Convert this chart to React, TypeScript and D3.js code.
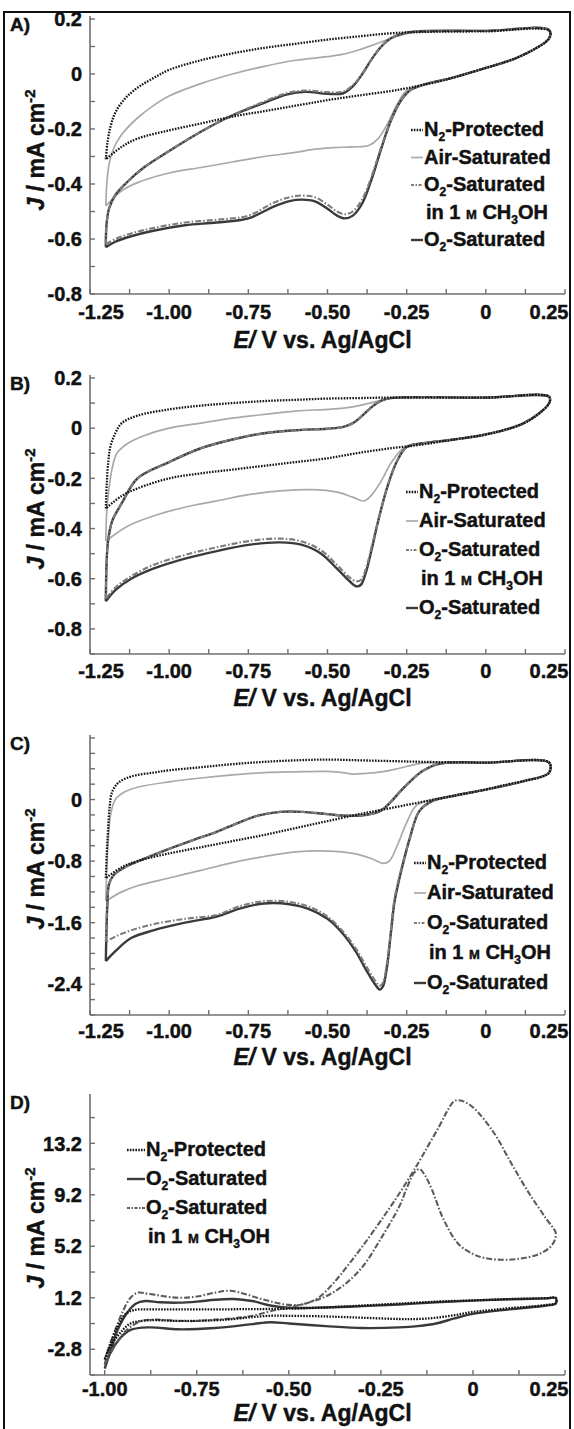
import React from 'react';
import * as d3 from 'd3';

type Pt = [number, number];

// ---------- panel A : loops as [E / V, J / mA cm-2], positive-going then negative-going ----------
const aN2: Pt[] = [
  [-1.2, -0.31], [-1.195, -0.25], [-1.185, -0.19], [-1.17, -0.14], [-1.14, -0.09], [-1.1, -0.05], [-1.05, -0.015],
  [-1.0, 0.015], [-0.9, 0.05], [-0.8, 0.075], [-0.7, 0.095], [-0.6, 0.11], [-0.5, 0.125], [-0.4, 0.137], [-0.3, 0.148],
  [-0.2, 0.153], [0, 0.155], [0.2, 0.157],
  [0.2, 0.13], [0.15, 0.088], [0.1, 0.06], [0.05, 0.04], [0, 0.022], [-0.05, 0.005], [-0.1, -0.012], [-0.15, -0.028],
  [-0.2, -0.04], [-0.25, -0.052], [-0.3, -0.062], [-0.4, -0.078], [-0.5, -0.095], [-0.6, -0.115], [-0.7, -0.135],
  [-0.8, -0.155], [-0.9, -0.18], [-1.0, -0.205], [-1.1, -0.235], [-1.15, -0.265], [-1.2, -0.31],
];
const aAir: Pt[] = [
  [-1.2, -0.48], [-1.197, -0.4], [-1.19, -0.33], [-1.175, -0.27], [-1.15, -0.22], [-1.1, -0.16], [-1.05, -0.115],
  [-1.0, -0.08], [-0.9, -0.035], [-0.8, 0.0], [-0.7, 0.028], [-0.6, 0.05], [-0.5, 0.063], [-0.45, 0.072], [-0.4, 0.088],
  [-0.35, 0.108], [-0.3, 0.13], [-0.25, 0.147], [-0.2, 0.153], [0, 0.157], [0.2, 0.16],
  [0.2, 0.13], [0.1, 0.06], [0, 0.022], [-0.1, -0.012], [-0.2, -0.04], [-0.25, -0.06], [-0.28, -0.11], [-0.31, -0.18],
  [-0.34, -0.235], [-0.37, -0.26], [-0.42, -0.265], [-0.48, -0.268], [-0.55, -0.275], [-0.6, -0.285], [-0.7, -0.3],
  [-0.8, -0.32], [-0.9, -0.34], [-1.0, -0.36], [-1.1, -0.395], [-1.15, -0.425], [-1.2, -0.48],
];
const aMeOH: Pt[] = [
  [-1.2, -0.62], [-1.198, -0.55], [-1.19, -0.49], [-1.17, -0.44], [-1.13, -0.39], [-1.08, -0.34], [-1.0, -0.28],
  [-0.9, -0.21], [-0.8, -0.15], [-0.7, -0.1], [-0.63, -0.07], [-0.57, -0.06], [-0.5, -0.066], [-0.45, -0.064],
  [-0.42, -0.04], [-0.39, 0.0], [-0.36, 0.055], [-0.33, 0.1], [-0.3, 0.13], [-0.26, 0.148], [-0.22, 0.155], [0, 0.157], [0.2, 0.16],
  [0.2, 0.13], [0.1, 0.06], [0, 0.022], [-0.1, -0.012], [-0.2, -0.04], [-0.24, -0.06], [-0.27, -0.1], [-0.3, -0.17],
  [-0.33, -0.265], [-0.36, -0.37], [-0.39, -0.455], [-0.42, -0.5], [-0.445, -0.51], [-0.47, -0.5], [-0.5, -0.475],
  [-0.54, -0.448], [-0.58, -0.442], [-0.62, -0.448], [-0.67, -0.468], [-0.75, -0.515], [-0.85, -0.53], [-0.95, -0.54],
  [-1.05, -0.56], [-1.12, -0.58], [-1.17, -0.6], [-1.2, -0.62],
];
const aO2: Pt[] = [
  [-1.2, -0.63], [-1.198, -0.55], [-1.19, -0.49], [-1.17, -0.44], [-1.13, -0.39], [-1.08, -0.34], [-1.0, -0.28],
  [-0.9, -0.21], [-0.8, -0.15], [-0.7, -0.105], [-0.63, -0.075], [-0.57, -0.065], [-0.5, -0.072], [-0.45, -0.07],
  [-0.42, -0.045], [-0.39, 0.0], [-0.36, 0.055], [-0.33, 0.1], [-0.3, 0.13], [-0.26, 0.148], [-0.22, 0.155], [0, 0.157], [0.2, 0.16],
  [0.2, 0.13], [0.1, 0.06], [0, 0.022], [-0.1, -0.012], [-0.2, -0.04], [-0.24, -0.06], [-0.27, -0.1], [-0.3, -0.17],
  [-0.33, -0.27], [-0.36, -0.38], [-0.39, -0.47], [-0.42, -0.515], [-0.445, -0.525], [-0.47, -0.515], [-0.5, -0.49],
  [-0.54, -0.463], [-0.58, -0.457], [-0.62, -0.462], [-0.67, -0.482], [-0.75, -0.525], [-0.85, -0.54], [-0.95, -0.55],
  [-1.05, -0.57], [-1.12, -0.59], [-1.17, -0.61], [-1.2, -0.63],
];

// ---------- panel B ----------
const bN2: Pt[] = [
  [-1.2, -0.32], [-1.197, -0.22], [-1.192, -0.13], [-1.185, -0.07], [-1.17, -0.02], [-1.15, 0.02], [-1.1, 0.05],
  [-1.0, 0.075], [-0.9, 0.09], [-0.8, 0.1], [-0.7, 0.108], [-0.6, 0.113], [-0.5, 0.118], [-0.4, 0.12], [-0.3, 0.122],
  [0, 0.122], [0.2, 0.125],
  [0.2, 0.1], [0.17, 0.06], [0.12, 0.02], [0.05, -0.01], [0, -0.025], [-0.1, -0.045], [-0.2, -0.065], [-0.3, -0.08],
  [-0.4, -0.098], [-0.5, -0.12], [-0.6, -0.135], [-0.7, -0.15], [-0.8, -0.165], [-0.9, -0.18], [-1.0, -0.2],
  [-1.1, -0.24], [-1.15, -0.27], [-1.2, -0.32],
];
const bAir: Pt[] = [
  [-1.2, -0.45], [-1.197, -0.33], [-1.19, -0.24], [-1.18, -0.16], [-1.165, -0.1], [-1.13, -0.06], [-1.08, -0.03],
  [-1.0, 0.0], [-0.9, 0.02], [-0.8, 0.04], [-0.7, 0.055], [-0.6, 0.068], [-0.5, 0.075], [-0.45, 0.08], [-0.4, 0.09],
  [-0.35, 0.105], [-0.3, 0.12], [-0.25, 0.124], [0, 0.122], [0.2, 0.125],
  [0.2, 0.1], [0.12, 0.02], [0, -0.025], [-0.1, -0.045], [-0.2, -0.06], [-0.26, -0.08], [-0.3, -0.14], [-0.33, -0.21],
  [-0.36, -0.265], [-0.385, -0.29], [-0.42, -0.275], [-0.47, -0.255], [-0.55, -0.245], [-0.65, -0.25], [-0.75, -0.265],
  [-0.85, -0.29], [-0.95, -0.315], [-1.05, -0.35], [-1.13, -0.39], [-1.2, -0.45],
];
const bMeOH: Pt[] = [
  [-1.2, -0.68], [-1.198, -0.55], [-1.193, -0.45], [-1.18, -0.37], [-1.15, -0.3], [-1.1, -0.2], [-1.0, -0.135],
  [-0.9, -0.08], [-0.8, -0.045], [-0.7, -0.02], [-0.6, -0.008], [-0.5, -0.002], [-0.45, 0.005], [-0.42, 0.02],
  [-0.39, 0.05], [-0.36, 0.085], [-0.33, 0.11], [-0.3, 0.12], [0, 0.122], [0.2, 0.125],
  [0.2, 0.1], [0.12, 0.02], [0, -0.025], [-0.1, -0.045], [-0.2, -0.06], [-0.25, -0.075], [-0.28, -0.13], [-0.31, -0.23],
  [-0.34, -0.37], [-0.36, -0.47], [-0.38, -0.565], [-0.395, -0.605], [-0.41, -0.61], [-0.43, -0.595], [-0.47, -0.545],
  [-0.52, -0.487], [-0.58, -0.452], [-0.65, -0.44], [-0.75, -0.45], [-0.85, -0.475], [-0.95, -0.505], [-1.05, -0.545],
  [-1.12, -0.59], [-1.17, -0.635], [-1.2, -0.68],
];
const bO2: Pt[] = [
  [-1.2, -0.69], [-1.198, -0.55], [-1.193, -0.45], [-1.18, -0.37], [-1.15, -0.3], [-1.1, -0.2], [-1.0, -0.135],
  [-0.9, -0.08], [-0.8, -0.045], [-0.7, -0.02], [-0.6, -0.008], [-0.5, -0.002], [-0.45, 0.005], [-0.42, 0.02],
  [-0.39, 0.05], [-0.36, 0.085], [-0.33, 0.11], [-0.3, 0.12], [0, 0.122], [0.2, 0.125],
  [0.2, 0.1], [0.12, 0.02], [0, -0.025], [-0.1, -0.045], [-0.2, -0.06], [-0.25, -0.075], [-0.28, -0.13], [-0.31, -0.23],
  [-0.34, -0.37], [-0.36, -0.48], [-0.38, -0.58], [-0.395, -0.625], [-0.41, -0.63], [-0.43, -0.61], [-0.47, -0.56],
  [-0.52, -0.5], [-0.58, -0.465], [-0.65, -0.455], [-0.75, -0.465], [-0.85, -0.49], [-0.95, -0.52], [-1.05, -0.56],
  [-1.12, -0.6], [-1.17, -0.645], [-1.2, -0.69],
];

// ---------- panel C ----------
const cN2: Pt[] = [
  [-1.2, -1.02], [-1.197, -0.7], [-1.193, -0.4], [-1.188, -0.1], [-1.18, 0.1], [-1.16, 0.22], [-1.12, 0.3],
  [-1.05, 0.35], [-1.0, 0.38], [-0.9, 0.42], [-0.8, 0.46], [-0.7, 0.49], [-0.6, 0.51], [-0.5, 0.52], [-0.4, 0.51],
  [-0.3, 0.5], [-0.2, 0.49], [0, 0.48], [0.2, 0.48],
  [0.2, 0.35], [0.18, 0.3], [0.12, 0.24], [0.05, 0.18], [0, 0.13], [-0.1, 0.05], [-0.2, -0.03], [-0.3, -0.11],
  [-0.4, -0.19], [-0.5, -0.28], [-0.6, -0.37], [-0.7, -0.46], [-0.8, -0.54], [-0.9, -0.62], [-1.0, -0.7],
  [-1.1, -0.8], [-1.15, -0.88], [-1.2, -1.02],
];
const cAir: Pt[] = [
  [-1.2, -1.32], [-1.197, -0.9], [-1.192, -0.5], [-1.185, -0.2], [-1.17, 0.0], [-1.14, 0.1], [-1.1, 0.16],
  [-1.0, 0.23], [-0.9, 0.28], [-0.8, 0.32], [-0.7, 0.35], [-0.6, 0.36], [-0.5, 0.365], [-0.45, 0.35], [-0.42, 0.33],
  [-0.38, 0.34], [-0.33, 0.36], [-0.28, 0.4], [-0.22, 0.46], [-0.18, 0.48], [0, 0.48], [0.2, 0.48],
  [0.2, 0.35], [0.12, 0.24], [0, 0.13], [-0.1, 0.05], [-0.18, -0.01], [-0.22, -0.08], [-0.25, -0.3], [-0.28, -0.6],
  [-0.305, -0.8], [-0.325, -0.83], [-0.36, -0.77], [-0.42, -0.7], [-0.5, -0.67], [-0.6, -0.68], [-0.7, -0.74],
  [-0.8, -0.82], [-0.9, -0.92], [-1.0, -1.02], [-1.1, -1.12], [-1.15, -1.2], [-1.2, -1.32],
];
const cMeOH: Pt[] = [
  [-1.2, -1.85], [-1.198, -1.6], [-1.195, -1.35], [-1.19, -1.1], [-1.175, -0.98], [-1.14, -0.88], [-1.08, -0.77],
  [-1.0, -0.64], [-0.92, -0.52], [-0.85, -0.42], [-0.78, -0.3], [-0.72, -0.21], [-0.65, -0.16], [-0.58, -0.16],
  [-0.5, -0.19], [-0.44, -0.21], [-0.38, -0.2], [-0.33, -0.14], [-0.3, -0.03], [-0.265, 0.13], [-0.23, 0.27],
  [-0.2, 0.37], [-0.16, 0.45], [-0.12, 0.48], [0, 0.48], [0.2, 0.48],
  [0.2, 0.35], [0.12, 0.24], [0, 0.13], [-0.1, 0.05], [-0.17, -0.02], [-0.21, -0.15], [-0.24, -0.5], [-0.265, -0.87],
  [-0.288, -1.28], [-0.3, -1.7], [-0.312, -2.12], [-0.325, -2.38], [-0.335, -2.42], [-0.35, -2.35], [-0.38, -2.15],
  [-0.41, -1.94], [-0.45, -1.72], [-0.5, -1.52], [-0.56, -1.39], [-0.62, -1.33], [-0.7, -1.32], [-0.78, -1.39],
  [-0.85, -1.5], [-0.95, -1.55], [-1.05, -1.62], [-1.12, -1.7], [-1.17, -1.78], [-1.2, -1.85],
];
const cO2: Pt[] = [
  [-1.2, -2.1], [-1.198, -1.7], [-1.195, -1.35], [-1.19, -1.1], [-1.175, -0.98], [-1.14, -0.88], [-1.08, -0.77],
  [-1.0, -0.64], [-0.92, -0.52], [-0.85, -0.42], [-0.78, -0.3], [-0.72, -0.21], [-0.65, -0.16], [-0.58, -0.16],
  [-0.5, -0.19], [-0.44, -0.21], [-0.38, -0.2], [-0.33, -0.14], [-0.3, -0.03], [-0.265, 0.13], [-0.23, 0.27],
  [-0.2, 0.37], [-0.16, 0.45], [-0.12, 0.48], [0, 0.48], [0.2, 0.48],
  [0.2, 0.35], [0.12, 0.24], [0, 0.13], [-0.1, 0.05], [-0.17, -0.02], [-0.21, -0.15], [-0.24, -0.5], [-0.265, -0.89],
  [-0.288, -1.32], [-0.3, -1.74], [-0.312, -2.17], [-0.325, -2.43], [-0.335, -2.47], [-0.35, -2.4], [-0.38, -2.2],
  [-0.41, -1.98], [-0.45, -1.75], [-0.5, -1.55], [-0.56, -1.42], [-0.62, -1.36], [-0.7, -1.35], [-0.78, -1.42],
  [-0.85, -1.52], [-0.95, -1.6], [-1.05, -1.7], [-1.12, -1.8], [-1.17, -1.97], [-1.2, -2.1],
];

// ---------- panel D ----------
const dN2: Pt[] = [
  [-1.0, -3.6], [-0.985, -2.4], [-0.965, -1.0], [-0.945, -0.1], [-0.92, 0.25], [-0.88, 0.3], [-0.8, 0.3],
  [-0.7, 0.3], [-0.6, 0.32], [-0.5, 0.35], [-0.4, 0.45], [-0.3, 0.6], [-0.2, 0.75], [-0.1, 0.9], [0, 1.0],
  [0.1, 1.1], [0.2, 1.17], [0.225, 1.2],
  [0.225, 0.8], [0.2, 0.65], [0.15, 0.5], [0.1, 0.4], [0.05, 0.25], [0, 0.1], [-0.05, -0.15], [-0.1, -0.35],
  [-0.15, -0.45], [-0.2, -0.45], [-0.3, -0.35], [-0.4, -0.25], [-0.5, -0.2], [-0.55, -0.2], [-0.6, -0.3],
  [-0.65, -0.45], [-0.7, -0.55], [-0.8, -0.6], [-0.88, -0.55], [-0.93, -0.8], [-0.96, -1.6], [-0.985, -2.6], [-1.0, -3.6],
];
const dO2: Pt[] = [
  [-1.0, -4.3], [-0.985, -3.0], [-0.965, -1.3], [-0.94, 0.0], [-0.915, 0.75], [-0.89, 0.95], [-0.85, 0.85],
  [-0.8, 0.82], [-0.75, 0.9], [-0.7, 1.05], [-0.65, 1.1], [-0.6, 0.95], [-0.55, 0.6], [-0.5, 0.42], [-0.4, 0.45],
  [-0.3, 0.55], [-0.2, 0.68], [-0.1, 0.85], [0, 0.98], [0.1, 1.08], [0.2, 1.15], [0.225, 1.18],
  [0.225, 0.75], [0.2, 0.6], [0.1, 0.3], [0, -0.05], [-0.05, -0.4], [-0.1, -0.8], [-0.15, -1.0], [-0.2, -1.1],
  [-0.3, -1.15], [-0.4, -1.0], [-0.5, -0.8], [-0.55, -0.7], [-0.6, -0.85], [-0.7, -1.15], [-0.8, -1.25],
  [-0.88, -1.1], [-0.93, -1.3], [-0.96, -2.0], [-0.985, -3.1], [-1.0, -4.3],
];
const dMeOH: Pt[] = [
  [-1.0, -4.0], [-0.99, -2.8], [-0.97, -1.2], [-0.95, 0.2], [-0.93, 1.2], [-0.91, 1.6], [-0.88, 1.5], [-0.8, 1.2],
  [-0.75, 1.3], [-0.7, 1.6], [-0.66, 1.75], [-0.62, 1.5], [-0.58, 1.15], [-0.54, 0.85], [-0.5, 0.65], [-0.46, 0.7],
  [-0.42, 1.2], [-0.38, 2.3], [-0.34, 3.7], [-0.3, 5.2], [-0.25, 7.2], [-0.2, 9.3], [-0.15, 11.6], [-0.12, 13.1],
  [-0.09, 14.6], [-0.07, 15.7], [-0.05, 16.5], [-0.03, 16.5], [0.0, 16.0], [0.055, 14.1], [0.105, 11.6],
  [0.155, 9.2], [0.2, 7.3], [0.225, 6.2],
  [0.215, 5.3], [0.18, 4.6], [0.13, 4.25], [0.08, 4.15], [0.03, 4.3], [0.0, 4.6], [-0.04, 5.4], [-0.08, 7.3],
  [-0.11, 9.5], [-0.13, 10.7], [-0.145, 11.2], [-0.16, 10.9], [-0.18, 9.7], [-0.2, 8.3], [-0.25, 5.8], [-0.3, 3.6],
  [-0.35, 2.2], [-0.4, 1.3], [-0.45, 0.8], [-0.5, 0.45], [-0.55, 0.15], [-0.6, -0.2], [-0.65, -0.4], [-0.7, -0.5],
  [-0.75, -0.6], [-0.8, -0.6], [-0.86, -0.5], [-0.9, -0.6], [-0.94, -1.3], [-0.97, -2.4], [-1.0, -4.0],
];

// ---------- axes ----------
const xTicksCV = [-1.25, -1.125, -1.0, -0.875, -0.75, -0.625, -0.5, -0.375, -0.25, -0.125, 0, 0.125, 0.25];
const xTicksD = [-1.0, -0.875, -0.75, -0.625, -0.5, -0.375, -0.25, -0.125, 0, 0.125, 0.25];
const xLabels = [-1.25, -1.0, -0.75, -0.5, -0.25, 0, 0.25];
const yTicksA = [-0.8, -0.7, -0.6, -0.5, -0.4, -0.3, -0.2, -0.1, 0, 0.1, 0.2];
const yLabelsA = [-0.8, -0.6, -0.4, -0.2, 0, 0.2];
const yTicksB = [-0.9, -0.8, -0.7, -0.6, -0.5, -0.4, -0.3, -0.2, -0.1, 0, 0.1, 0.2];
const yLabelsB = [-0.8, -0.6, -0.4, -0.2, 0, 0.2];
const yTicksC = [-2.8, -2.6, -2.4, -2.2, -2.0, -1.8, -1.6, -1.4, -1.2, -1.0, -0.8, -0.6, -0.4, -0.2, 0, 0.2, 0.4, 0.6, 0.8];
const yLabelsC = [-2.4, -1.6, -0.8, 0];
const yTicksD = [-4.8, -2.8, -0.8, 1.2, 3.2, 5.2, 7.2, 9.2, 11.2, 13.2, 15.2];
const yLabelsD = [-2.8, 1.2, 5.2, 9.2, 13.2];

const FONT = 'Arial, "Liberation Sans", Helvetica, sans-serif';
const X0 = 90;
const X1 = 565;
const AXIS = '#6f6f6f';
const INK = '#111';
// a thin outline makes the bold face as heavy as the scanned figure
const txt = { fill: INK, stroke: INK, strokeWidth: 0.45, fontWeight: 'bold' as const };

type Kind = 'n2' | 'air' | 'meoh' | 'o2';
const STYLE: Record<Kind, { stroke: string; width: number; dash?: string }> = {
  n2: { stroke: '#141414', width: 2.3, dash: '1.6 1.3' },
  air: { stroke: '#a9a9a9', width: 1.7 },
  meoh: { stroke: '#7d7d7d', width: 2.1, dash: '6 2 1.6 2' },
  o2: { stroke: '#3a3a3a', width: 2.4 },
};

interface Series { kind: Kind; data: Pt[]; color?: string }
interface PanelCfg {
  label: string;
  top: number;
  bottom: number;
  xDomain: [number, number];
  xTicks: number[];
  yDomain: [number, number];
  yTicks: number[];
  yLabels: number[];
  yFmt: (v: number) => string;
  tickDy: number;
  titleDy: number;
  series: Series[];
  legend: { x: number; y: number; gap: number; rows: Kind[]; lineLen: number };
}

const fmt1 = (v: number) => (Math.abs(v) < 1e-9 ? '0' : v.toFixed(1));
const fmt2 = (v: number) => (Math.abs(v) < 1e-9 ? '0' : v.toFixed(2));

function LegendText({ kind }: { kind: Kind }) {
  if (kind === 'n2')
    return (
      <>
        <tspan>N</tspan>
        <tspan dy={5} fontSize={12}>2</tspan>
        <tspan dy={-5}>-Protected</tspan>
      </>
    );
  if (kind === 'air') return <tspan>Air-Saturated</tspan>;
  return (
    <>
      <tspan>O</tspan>
      <tspan dy={5} fontSize={12}>2</tspan>
      <tspan dy={-5}>-Saturated</tspan>
    </>
  );
}

function Panel({ cfg }: { cfg: PanelCfg }) {
  const x = d3.scaleLinear().domain(cfg.xDomain).range([X0, X1]);
  const y = d3.scaleLinear().domain(cfg.yDomain).range([cfg.bottom, cfg.top]);
  const line = d3
    .line<Pt>()
    .x((d) => x(d[0]))
    .y((d) => y(d[1]))
    .curve(d3.curveCatmullRom.alpha(0.5));
  const lg = cfg.legend;
  let row = 0;
  const legendRows: React.ReactNode[] = [];
  lg.rows.forEach((k, i) => {
    const yy = lg.y + row * lg.gap;
    const st = STYLE[k];
    const col = cfg.series.find((s) => s.kind === k)?.color ?? st.stroke;
    legendRows.push(
      <g key={i}>
        <line x1={lg.x} x2={lg.x + lg.lineLen} y1={yy - 6} y2={yy - 6} stroke={col} strokeWidth={st.width}
          strokeDasharray={k === 'n2' ? '1.6 1.2' : k === 'meoh' ? '3 1.5 1.5 1.5' : undefined} />
        <text x={lg.x + lg.lineLen + 1} y={yy} fontSize={20} {...txt}>
          <LegendText kind={k} />
        </text>
      </g>,
    );
    row += 1;
    if (k === 'meoh') {
      const y2 = lg.y + row * lg.gap;
      legendRows.push(
        <text key={'m' + i} x={lg.x + lg.lineLen + 3} y={y2} fontSize={20} {...txt}>
          <tspan>in 1 </tspan>
          <tspan fontSize={13}>M</tspan>
          <tspan> CH</tspan>
          <tspan dy={5} fontSize={12}>3</tspan>
          <tspan dy={-5}>OH</tspan>
        </text>,
      );
      row += 1;
    }
  });

  const xMin = cfg.xDomain[0];
  return (
    <g fontFamily={FONT}>
      <text x={10} y={cfg.top + 12} fontSize={19} {...txt}>{cfg.label}</text>
      {/* axes */}
      <line x1={X0} x2={X0} y1={cfg.top - 3} y2={cfg.bottom} stroke={AXIS} strokeWidth={1.6} />
      <line x1={X0} x2={X1} y1={cfg.bottom} y2={cfg.bottom} stroke={AXIS} strokeWidth={1.6} />
      {cfg.yTicks.map((t) => (
        <line key={'yt' + t} x1={X0} x2={X0 + 5} y1={y(t)} y2={y(t)} stroke={AXIS} strokeWidth={1.4} />
      ))}
      {cfg.yLabels.map((t) => (
        <text key={'yl' + t} x={X0 - 8} y={y(t)} dy="0.36em" textAnchor="end" fontSize={20} {...txt}>
          {cfg.yFmt(t)}
        </text>
      ))}
      {cfg.xTicks.map((t) => (
        <line key={'xt' + t} x1={x(t)} x2={x(t)} y1={cfg.bottom} y2={cfg.bottom - 5} stroke={AXIS} strokeWidth={1.4} />
      ))}
      {xLabels
        .filter((t) => t >= xMin - 1e-9)
        .map((t) => {
          let px = x(t);
          if (Math.abs(t - xMin) < 1e-9) px += 11;
          if (t === 0.25) px -= 16;
          return (
            <text key={'xl' + t} x={px} y={cfg.bottom + cfg.tickDy} textAnchor="middle" fontSize={20} {...txt}>
              {fmt2(t)}
            </text>
          );
        })}
      <text x={(X0 + X1) / 2 - 5} y={cfg.bottom + cfg.titleDy} textAnchor="middle" fontSize={23} {...txt}>
        <tspan fontStyle="italic">E</tspan>
        <tspan fontStyle="italic">/</tspan>
        <tspan> V vs. Ag/AgCl</tspan>
      </text>
      <text transform={`translate(44,${cfg.top + 131}) rotate(-90)`} textAnchor="middle" fontSize={23} {...txt}>
        <tspan fontStyle="italic">J</tspan>
        <tspan> / mA cm</tspan>
        <tspan dy={-9} fontSize={15}>-2</tspan>
      </text>
      {/* curves */}
      {cfg.series.map((s, i) => {
        const st = STYLE[s.kind];
        return (
          <path key={i} d={line(s.data) ?? ''} fill="none" stroke={s.color ?? st.stroke} strokeWidth={st.width}
            strokeDasharray={st.dash} strokeLinejoin="round" />
        );
      })}
      {legendRows}
    </g>
  );
}

const panels: PanelCfg[] = [
  {
    label: 'A)', top: 19, bottom: 294, xDomain: [-1.25, 0.25], xTicks: xTicksCV,
    yDomain: [-0.8, 0.2], yTicks: yTicksA, yLabels: yLabelsA, yFmt: fmt1, tickDy: 25, titleDy: 54,
    series: [{ kind: 'air', data: aAir }, { kind: 'o2', data: aO2 }, { kind: 'meoh', data: aMeOH }, { kind: 'n2', data: aN2 }],
    legend: { x: 411, y: 136, gap: 27.5, rows: ['n2', 'air', 'meoh', 'o2'], lineLen: 12 },
  },
  {
    label: 'B)', top: 378, bottom: 654, xDomain: [-1.25, 0.25], xTicks: xTicksCV,
    yDomain: [-0.9, 0.2], yTicks: yTicksB, yLabels: yLabelsB, yFmt: fmt1, tickDy: 24, titleDy: 52,
    series: [{ kind: 'air', data: bAir }, { kind: 'o2', data: bO2 }, { kind: 'meoh', data: bMeOH }, { kind: 'n2', data: bN2 }],
    legend: { x: 406, y: 498, gap: 29, rows: ['n2', 'air', 'meoh', 'o2'], lineLen: 12 },
  },
  {
    label: 'C)', top: 738, bottom: 1015, xDomain: [-1.25, 0.25], xTicks: xTicksCV,
    yDomain: [-2.8, 0.8], yTicks: yTicksC, yLabels: yLabelsC, yFmt: fmt1, tickDy: 23, titleDy: 50,
    series: [{ kind: 'air', data: cAir }, { kind: 'o2', data: cO2 }, { kind: 'meoh', data: cMeOH }, { kind: 'n2', data: cN2 }],
    legend: { x: 414, y: 869, gap: 30, rows: ['n2', 'air', 'meoh', 'o2'], lineLen: 12 },
  },
  {
    label: 'D)', top: 1097, bottom: 1375, xDomain: [-1.04, 0.25], xTicks: xTicksD,
    yDomain: [-4.8, 16.8], yTicks: yTicksD, yLabels: yLabelsD, yFmt: fmt1, tickDy: 21, titleDy: 46,
    series: [{ kind: 'o2', data: dO2 }, { kind: 'meoh', data: dMeOH, color: '#5c5c5c' }, { kind: 'n2', data: dN2 }],
    legend: { x: 127, y: 1156, gap: 29, rows: ['n2', 'o2', 'meoh'], lineLen: 18 },
  },
];

export default function App() {
  return (
    <svg width={574} height={1429} viewBox="0 0 574 1429"
      style={{ position: 'absolute', left: 0, top: 0, background: '#fff' }}>
      <rect x={0} y={0} width={574} height={1429} fill="#fff" />
      <rect x={4} y={12} width={566} height={1430} fill="none" stroke="#111" strokeWidth={2} />
      {panels.map((p) => (
        <Panel key={p.label} cfg={p} />
      ))}
    </svg>
  );
}
